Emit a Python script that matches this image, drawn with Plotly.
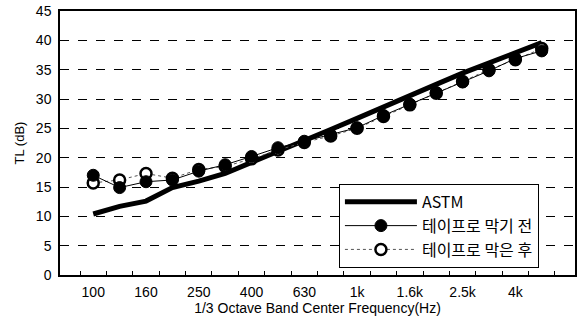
import plotly.graph_objects as go

freqs = ["100", "125", "160", "200", "250", "315", "400", "500", "630", "800",
         "1k", "1.25k", "1.6k", "2k", "2.5k", "3.15k", "4k", "5k"]
tick_labels = ["100", "", "160", "", "250", "", "400", "", "630", "",
               "1k", "", "1.6k", "", "2.5k", "", "4k", ""]
astm = [10.4, 11.7, 12.6, 14.9, 16.0, 17.3, 19.2, 21.0, 22.8, 24.8,
        26.7, 28.7, 30.6, 32.5, 34.4, 36.2, 37.9, 39.6]
before_tape = [17.0, 14.9, 15.9, 16.2, 17.7, 18.8, 20.2, 21.7, 22.8, 23.9,
               25.1, 27.2, 29.1, 31.1, 32.9, 34.8, 36.9, 38.2]
after_tape = [15.7, 16.2, 17.3, 16.5, 18.0, 18.5, 19.8, 21.3, 22.6, 23.7,
              25.0, 27.0, 29.0, 31.0, 33.0, 35.0, 36.7, 38.6]
names = ["ASTM", "테이프로 막기 전", "테이프로 막은 후"]

fig = go.Figure()
fig.add_trace(go.Scatter(x=freqs, y=astm, name=names[0], mode="lines",
                         legendrank=1, legendgroup="a",
                         line=dict(color="black", width=5)))
fig.add_trace(go.Scatter(x=freqs, y=after_tape, name=names[2], mode="lines+markers",
                         legendrank=3, legendgroup="c",
                         line=dict(color="#555555", width=1, dash="dot"),
                         marker=dict(symbol="circle", size=11, color="white",
                                     line=dict(color="black", width=2.5))))
fig.add_trace(go.Scatter(x=freqs, y=before_tape, name=names[1], mode="lines+markers",
                         legendrank=2, legendgroup="b",
                         line=dict(color="black", width=1),
                         marker=dict(symbol="circle", size=12, color="black",
                                     line=dict(color="black", width=1))))

font = "Liberation Sans, Arial, sans-serif"
fig.update_layout(
    width=579, height=322,
    margin=dict(l=60, r=2, t=11, b=47),
    paper_bgcolor="white", plot_bgcolor="white",
    font=dict(family=font, color="black", size=14),
    showlegend=True,
    legend=dict(x=0.5416, y=0.345, xanchor="left", yanchor="top",
                bgcolor="white", bordercolor="black", borderwidth=1,
                font=dict(family="Noto Sans CJK KR, " + font, size=16),
                itemwidth=72, tracegroupgap=3, traceorder="normal"),
)
fig.update_xaxes(
    type="category", categoryorder="array", categoryarray=freqs,
    tickmode="array", tickvals=freqs, ticktext=tick_labels, tickangle=0,
    tickson="boundaries", ticks="inside", ticklen=4, tickcolor="black",
    showline=True, linecolor="black", linewidth=1.5, mirror=True,
    showgrid=False, zeroline=False,
    tickfont=dict(size=14), ticklabelstandoff=3,
    title=dict(text="1/3 Octave Band Center Frequency(Hz)", font=dict(size=14), standoff=4),
)
fig.update_yaxes(
    range=[0, 45], dtick=5, tick0=0,
    showline=True, linecolor="black", linewidth=1.5, mirror=True,
    showgrid=True, gridcolor="black", gridwidth=1, griddash="dash",
    zeroline=False, ticks="",
    tickfont=dict(size=14), ticklabelstandoff=4,
    title=dict(text="TL (dB)", font=dict(size=13), standoff=8),
)
fig.write_html("out.html", config={"displayModeBar": False},
               post_script="document.body.style.margin='0';")
